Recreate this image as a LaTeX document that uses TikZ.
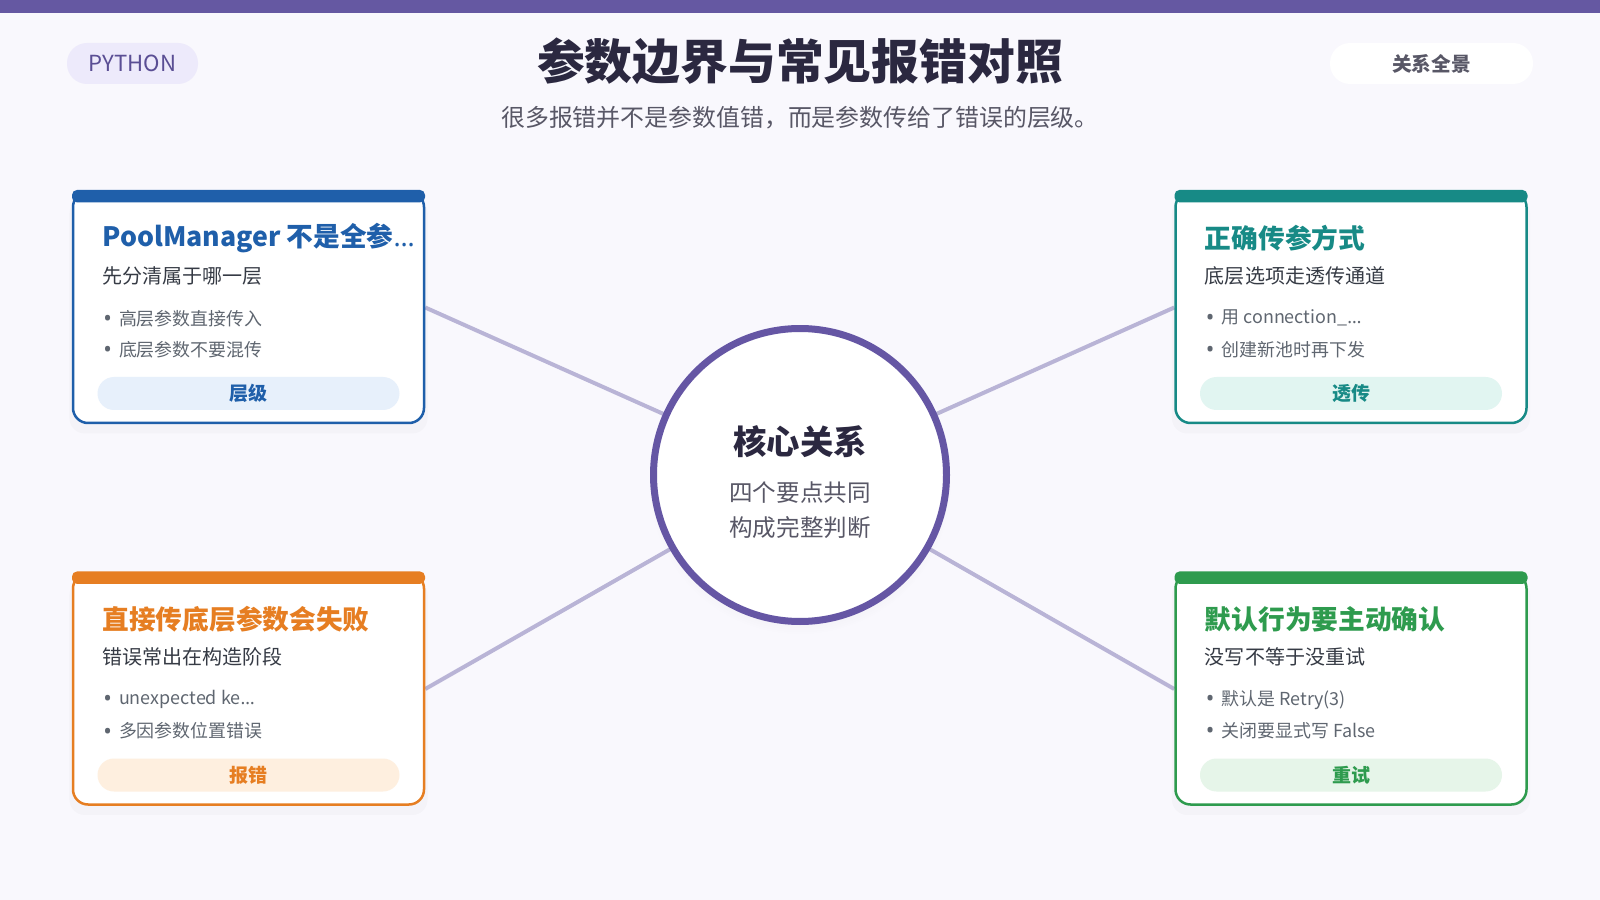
\documentclass[tikz,border=0pt]{standalone}
\usepackage{fontspec}
\setmainfont{Noto Sans CJK SC}
\newfontfamily\latinfont{Noto Sans}
\usetikzlibrary{backgrounds,shadows}
\definecolor{bgpage}{HTML}{F9F8FD}
\definecolor{topbar}{HTML}{6558A2}
\definecolor{ink}{HTML}{2B2840}
\definecolor{subink}{HTML}{585766}
\definecolor{bodyink}{HTML}{363B45}
\definecolor{bulink}{HTML}{5F6670}
\definecolor{linkc}{HTML}{B9B4D6}
\definecolor{ringc}{HTML}{6556A4}
\definecolor{cblue}{HTML}{1F5FAA}
\definecolor{cteal}{HTML}{178A86}
\definecolor{corange}{HTML}{E67E22}
\definecolor{cgreen}{HTML}{2E9B4E}
\definecolor{pblue}{HTML}{E7F0FB}
\definecolor{pteal}{HTML}{E1F5F1}
\definecolor{porange}{HTML}{FEEFDF}
\definecolor{pgreen}{HTML}{E6F5E9}
\definecolor{pypill}{HTML}{EDEAFB}
\definecolor{pytext}{HTML}{5A4E94}
\newcommand{\dotmark}{\raisebox{-0.15mm}{\latinfont\fontsize{6.5}{6}\selectfont •}\hspace{0.7mm}}
\tikzset{
  card/.style={draw=#1, fill=white, line width=0.25mm, rounded corners=1.5mm,
    minimum width=35.1mm, minimum height=23.1mm, inner sep=0pt,
    drop shadow={opacity=0.04, shadow xshift=0mm, shadow yshift=-0.8mm, shadow scale=1.02}},
  cardbar/.style={fill=#1, rounded corners=0.5mm, minimum width=35.3mm,
    minimum height=1.25mm, inner sep=0pt, anchor=north},
  cardtitle/.style={anchor=west, inner sep=0pt, text=#1,
    font=\fontsize{7.6}{9}\selectfont\bfseries},
  cardsub/.style={anchor=west, inner sep=0pt, text=bodyink,
    font=\fontsize{5.7}{7}\selectfont},
  bulletline/.style={anchor=west, inner sep=0pt, text=bulink,
    font=\fontsize{5.1}{6}\selectfont},
  tagpill/.style={fill=#1, rounded corners=1.65mm, minimum width=30.2mm,
    minimum height=3.3mm, inner sep=0pt, font=\fontsize{5.4}{6}\selectfont\bfseries},
  link/.style={draw=linkc, line width=0.4mm},
}
\begin{document}
\begin{tikzpicture}[x=0.1mm, y=-0.1mm]
  \useasboundingbox (0,0) rectangle (1600,900);
  \fill[topbar] (0,0) rectangle (1600,13);

  % header
  \node[fill=pypill, rounded corners=2mm, minimum width=13.1mm, minimum height=4.1mm,
    inner sep=0pt, text=pytext, font=\fontsize{6.3}{7}\selectfont] (lang) at (132.5,63.5) {PYTHON};
  \node[fill=white, rounded corners=2mm, minimum width=20.3mm, minimum height=4.1mm,
    inner sep=0pt, text=subink, font=\fontsize{5.6}{7}\selectfont\bfseries] (scope) at (1431.5,63.5) {关系全景};
  \node[text=ink, inner sep=0pt, font=\fontsize{13.6}{15}\selectfont\bfseries] (title) at (800,61) {参数边界与常见报错对照};
  \node[text=subink, inner sep=0pt, font=\fontsize{6.8}{8}\selectfont] (subtitle) at (800,118) {很多报错并不是参数值错，而是参数传给了错误的层级。};

  % centre
  \node[circle, draw=ringc, line width=0.7mm, fill=white, minimum size=29.3mm,
    circular drop shadow={opacity=0.08, shadow xshift=0mm, shadow yshift=-0.8mm, shadow scale=1.03}] (core) at (800,475) {};
  \node[text=ink, inner sep=0pt, font=\fontsize{9.5}{11}\selectfont\bfseries] (coretitle) at (800,442) {核心关系};
  \node[text=subink, inner sep=0pt, align=center, font=\fontsize{6.7}{10}\selectfont] (coretext) at (800,510.5) {四个要点共同\\构成完整判断};

  % top left
  \node[card=cblue] (layer) at (248.5,307.5) {};
  \node[cardbar=cblue] (layerbar) at ([yshift=0.15mm]layer.north) {};
  \node[cardtitle=cblue] (layertitle) at ([xshift=3mm,yshift=-4.7mm]layer.north west) {PoolManager 不是全参{\latinfont …}};
  \node[cardsub] (layersub) at ([xshift=3mm,yshift=-8.5mm]layer.north west) {先分清属于哪一层};
  \node[bulletline] (layera) at ([xshift=3.1mm,yshift=-12.75mm]layer.north west) {\dotmark 高层参数直接传入};
  \node[bulletline] (layerb) at ([xshift=3.1mm,yshift=-15.85mm]layer.north west) {\dotmark 底层参数不要混传};
  \node[tagpill=pblue, text=cblue] (layertag) at ([yshift=-8.6mm]layer.center) {层级};

  % top right
  \node[card=cteal] (pass) at (1351,307.5) {};
  \node[cardbar=cteal] (passbar) at ([yshift=0.15mm]pass.north) {};
  \node[cardtitle=cteal] (passtitle) at ([xshift=3mm,yshift=-4.7mm]pass.north west) {正确传参方式};
  \node[cardsub] (passsub) at ([xshift=3mm,yshift=-8.5mm]pass.north west) {底层选项走透传通道};
  \node[bulletline] (passa) at ([xshift=3.1mm,yshift=-12.75mm]pass.north west) {\dotmark 用 connection\_{\latinfont …}};
  \node[bulletline] (passb) at ([xshift=3.1mm,yshift=-15.85mm]pass.north west) {\dotmark 创建新池时再下发};
  \node[tagpill=pteal, text=cteal] (passtag) at ([yshift=-8.6mm]pass.center) {透传};

  % bottom left
  \node[card=corange] (fail) at (248.5,689) {};
  \node[cardbar=corange] (failbar) at ([yshift=0.15mm]fail.north) {};
  \node[cardtitle=corange] (failtitle) at ([xshift=3mm,yshift=-4.7mm]fail.north west) {直接传底层参数会失败};
  \node[cardsub] (failsub) at ([xshift=3mm,yshift=-8.5mm]fail.north west) {错误常出在构造阶段};
  \node[bulletline] (faila) at ([xshift=3.1mm,yshift=-12.75mm]fail.north west) {\dotmark unexpected ke{\latinfont …}};
  \node[bulletline] (failb) at ([xshift=3.1mm,yshift=-15.85mm]fail.north west) {\dotmark 多因参数位置错误};
  \node[tagpill=porange, text=corange] (failtag) at ([yshift=-8.6mm]fail.center) {报错};

  % bottom right
  \node[card=cgreen] (retry) at (1351,689) {};
  \node[cardbar=cgreen] (retrybar) at ([yshift=0.15mm]retry.north) {};
  \node[cardtitle=cgreen] (retrytitle) at ([xshift=3mm,yshift=-4.7mm]retry.north west) {默认行为要主动确认};
  \node[cardsub] (retrysub) at ([xshift=3mm,yshift=-8.5mm]retry.north west) {没写不等于没重试};
  \node[bulletline] (retrya) at ([xshift=3.1mm,yshift=-12.75mm]retry.north west) {\dotmark 默认是 Retry(3)};
  \node[bulletline] (retryb) at ([xshift=3.1mm,yshift=-15.85mm]retry.north west) {\dotmark 关闭要显式写 False};
  \node[tagpill=pgreen, text=cgreen] (retrytag) at ([yshift=-8.6mm]retry.center) {重试};

  \begin{scope}[on background layer]
    \fill[bgpage] (0,13) rectangle (1600,900);
    \draw[link] (layer.east) -- (core.center);
    \draw[link] (pass.west) -- (core.center);
    \draw[link] (fail.east) -- (core.center);
    \draw[link] (retry.west) -- (core.center);
  \end{scope}
\end{tikzpicture}
\end{document}
